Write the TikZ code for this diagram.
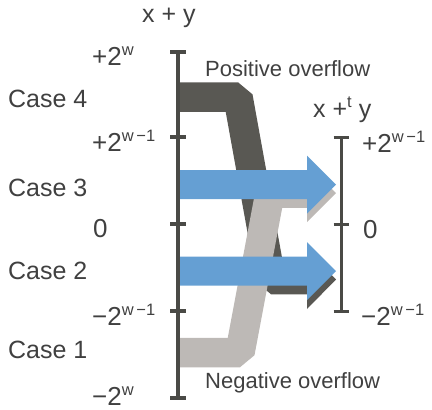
\documentclass[tikz,border=0pt]{standalone}
\usepackage{fontspec}
\setmainfont{Liberation Sans}
\definecolor{axisc}{HTML}{4A4A46}
\definecolor{txt}{HTML}{404040}
\definecolor{darkband}{HTML}{595853}
\definecolor{lightband}{HTML}{BDB9B6}
\definecolor{bluearrow}{HTML}{659FD3}
\newcommand{\supx}[1]{\raisebox{10pt}{\fontsize{16.5}{16.5}\selectfont #1}}
\begin{document}
\begin{tikzpicture}[x=1pt,y=-1pt,
  axislbl/.style={text=txt,font=\fontsize{26}{30}\selectfont,inner sep=0pt,anchor=base west},
  caselbl/.style={text=txt,font=\fontsize{25}{30}\selectfont,inner sep=0pt,anchor=base west},
  ovlbl/.style={text=txt,font=\fontsize{22}{26}\selectfont,inner sep=0pt,anchor=base west},
  band/.style={line width=29.5pt,line join=bevel,line cap=butt},
  axisline/.style={axisc,line width=4pt},
  tickline/.style={axisc,line width=3.5pt},
  bluefill/.style={fill=bluearrow,draw=none}]
\useasboundingbox (0,0) rectangle (432,410);
% coordinates
\coordinate (L4a) at (178,97);
\coordinate (L4b) at (238,97);
\coordinate (L4c) at (271,279.5);
\coordinate (L4d) at (307.5,279.5);
\coordinate (L1a) at (178,352.5);
\coordinate (L1b) at (240,352.5);
\coordinate (L1c) at (270,193);
\coordinate (L1d) at (307.5,193);
% dark band (case 4 -> lower)
\draw[band,darkband] (L4a) -- (L4b) -- (L4c) -- (L4d);
\fill[darkband] (307,250) -- (336,279.5) -- (307,309) -- cycle;
% light band (case 1 -> upper)
\draw[band,lightband] (L1a) -- (L1b) -- (L1c) -- (L1d);
\fill[lightband] (307,164) -- (336,193) -- (307,222) -- cycle;
% blue arrows
\fill[bluefill] (178,170) -- (307,170) -- (307,155.5) -- (336,184.5) -- (307,213.5) -- (307,199) -- (178,199) -- cycle;
\fill[bluefill] (178,256.5) -- (307,256.5) -- (307,242) -- (336,271) -- (307,300) -- (307,285.5) -- (178,285.5) -- cycle;
% left axis
\coordinate (LT) at (178,52);
\coordinate (LB) at (178,398);
\draw[axisline] (LT) -- (LB);
\foreach \yy in {52,137,224,311,398} \draw[tickline] (170,\yy) -- (186,\yy);
% right axis
\coordinate (RT) at (341,137);
\coordinate (RB) at (341,311);
\draw[axisc,line width=3pt] (RT) -- (RB);
\foreach \yy in {137,224,311} \draw[axisc,line width=3pt] (333.5,\yy) -- (348.5,\yy);
% labels
\node[caselbl] (xy) at (142,22) {x + y};
\node[caselbl] (xty) at (313,117) {x +\supx{t} y};
\node[axislbl] (l1) at (92,65) {+2\supx{w}};
\node[axislbl] (l2) at (92,151) {+2\supx{w\,−1}};
\node[axislbl] (l3) at (93,237) {0};
\node[axislbl] (l4) at (92,325) {−2\supx{w\,−1}};
\node[axislbl] (l5) at (92,405) {−2\supx{w}};
\node[axislbl] (r1) at (362,152) {+2\supx{w\,−1}};
\node[axislbl] (r2) at (363,238) {0};
\node[axislbl] (r3) at (361,325) {−2\supx{w\,−1}};
\node[caselbl] (c4) at (8,107) {Case 4};
\node[caselbl] (c3) at (8,196) {Case 3};
\node[caselbl] (c2) at (8,279) {Case 2};
\node[caselbl] (c1) at (8,358) {Case 1};
\node[ovlbl] (po) at (205,76) {Positive overflow};
\node[ovlbl] (no) at (205,388) {Negative overflow};
\end{tikzpicture}
\end{document}
